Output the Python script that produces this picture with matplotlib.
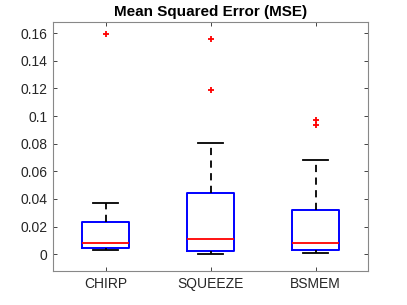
import matplotlib
matplotlib.use("Agg")
import matplotlib.pyplot as plt

plt.rcParams['font.family'] = ['Liberation Sans', 'DejaVu Sans']

# Box statistics
methods = ["CHIRP", "SQUEEZE", "BSMEM"]
whisker_lo = [0.0029, 0.0005, 0.0011]
q1 = [0.0046, 0.0024, 0.0034]
medians = [0.0085, 0.0107, 0.0085]
q3 = [0.0230, 0.0445, 0.0317]
whisker_hi = [0.0370, 0.0808, 0.0680]
outliers = [[0.1595], [0.1555, 0.1185], [0.0968, 0.0937]]

stats = []
for i in range(len(methods)):
    stats.append({"label": methods[i], "whislo": whisker_lo[i], "q1": q1[i],
                  "med": medians[i], "q3": q3[i], "whishi": whisker_hi[i],
                  "fliers": outliers[i]})

fig = plt.figure(figsize=(4.07, 3.05), dpi=100)
ax = fig.add_axes([53/407, 1 - 271/305, 315/407, 249/305])

ax.bxp(stats, positions=[1, 2, 3], widths=0.45,
       boxprops=dict(color="blue", linewidth=1.4),
       medianprops=dict(color="red", linewidth=1.3),
       whiskerprops=dict(color="black", linestyle="--", linewidth=1.3, dashes=(4, 3)),
       capprops=dict(color="black", linewidth=1.3),
       capwidths=0.23,
       flierprops=dict(marker="+", markeredgecolor="red", markersize=4, markeredgewidth=1.3))

ax.set_xlim(0.5, 3.5)
ax.set_ylim(-0.0121, 0.168)
ax.set_yticks([0, 0.02, 0.04, 0.06, 0.08, 0.1, 0.12, 0.14, 0.16])
ax.set_yticklabels(["0", "0.02", "0.04", "0.06", "0.08", "0.1", "0.12", "0.14", "0.16"])
ax.tick_params(direction="in", top=True, right=True, labelsize=10, colors="#262626",
               length=3, width=0.6, pad=4)
for s in ax.spines.values():
    s.set_color("#888888")
    s.set_linewidth(0.8)
ax.set_title("Mean Squared Error (MSE)", fontsize=11, fontweight="bold", pad=4)

fig.savefig("out.png", dpi=100)
